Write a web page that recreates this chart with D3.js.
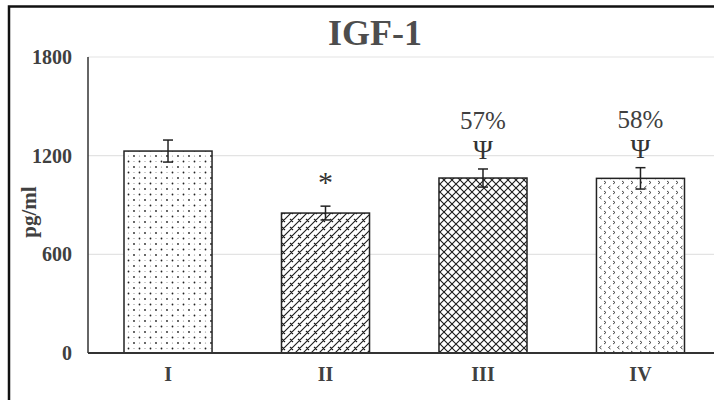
<!DOCTYPE html>
<html>
<head>
<meta charset="utf-8">
<script src="https://cdn.jsdelivr.net/npm/d3@7"></script>
<style>
  html, body { margin: 0; padding: 0; background: #fff; }
  svg { display: block; }
  text { font-family: "Liberation Serif", "Times New Roman", "DejaVu Serif", serif; }
</style>
</head>
<body>
<svg id="chart" width="714" height="400"></svg>
<script>
const categories = ["I", "II", "III", "IV"];
const means = [1228, 851, 1064, 1062];
const errors = [67, 42, 55, 65];
const markers = ["", "*", "Ψ", "Ψ"];
const percents = ["", "", "57%", "58%"];
const yTicks = [0, 600, 1200, 1800];
const patternIds = ["pDots", "pBrick", "pDiamond", "pDivot"];
const SERIF = "'Liberation Serif', 'Times New Roman', 'DejaVu Serif', serif";

const svg = d3.select("#chart");
const defs = svg.append("defs");

// Pattern I: dots
const p1 = defs.append("pattern").attr("id", "pDots").attr("patternUnits", "userSpaceOnUse")
  .attr("width", 11).attr("height", 11);
p1.append("rect").attr("width", 11).attr("height", 11).attr("fill", "#fff");
[[2, 2, 0.9, "#222"], [7.5, 7.5, 0.9, "#222"], [7.5, 2, 0.6, "#888"], [2, 7.5, 0.6, "#888"]].forEach(d => {
  p1.append("circle").attr("cx", d[0]).attr("cy", d[1]).attr("r", d[2]).attr("fill", d[3]);
});

// Pattern II: diagonal brick
const p2 = defs.append("pattern").attr("id", "pBrick").attr("patternUnits", "userSpaceOnUse")
  .attr("width", 8).attr("height", 8);
p2.append("rect").attr("width", 8).attr("height", 8).attr("fill", "#fff");
p2.append("path").attr("d", "M-1,9 L9,-1 M-1,1 L1,-1 M7,9 L9,7 M2,3 L5,6")
  .attr("stroke", "#1a1a1a").attr("stroke-width", 1.1).attr("fill", "none");

// Pattern III: diamond lattice
const p3 = defs.append("pattern").attr("id", "pDiamond").attr("patternUnits", "userSpaceOnUse")
  .attr("width", 8).attr("height", 8);
p3.append("rect").attr("width", 8).attr("height", 8).attr("fill", "#fff");
p3.append("path").attr("d", "M0,0 L8,8 M8,0 L0,8")
  .attr("stroke", "#1a1a1a").attr("stroke-width", 1.1).attr("fill", "none");

// Pattern IV: divot chevrons
const p4 = defs.append("pattern").attr("id", "pDivot").attr("patternUnits", "userSpaceOnUse")
  .attr("width", 9).attr("height", 10);
p4.append("rect").attr("width", 9).attr("height", 10).attr("fill", "#fff");
p4.append("path").attr("d", "M1,1 L3,2.5 L1,4 M7.5,6 L5.5,7.5 L7.5,9")
  .attr("stroke", "#333").attr("stroke-width", 0.9).attr("fill", "none");

// Outer frame
svg.append("rect").attr("x", 9).attr("y", 6.5).attr("width", 730).attr("height", 420)
  .attr("fill", "none").attr("stroke", "#111").attr("stroke-width", 2.5);

const y = d3.scaleLinear().domain([0, 1800]).range([353, 57]);
const x = d3.scaleBand().domain(categories).range([88, 720.5])
  .paddingInner(0.441).paddingOuter(0.2286);

// Gridlines
svg.append("g").selectAll("line").data(yTicks.filter(t => t > 0)).join("line")
  .attr("x1", 88).attr("x2", 714).attr("y1", d => y(d)).attr("y2", d => y(d))
  .attr("stroke", "#e3e3e3").attr("stroke-width", 1.2);

// Y axis (labels)
const yAxis = svg.append("g").attr("transform", "translate(88,0)")
  .call(d3.axisLeft(y).tickValues(yTicks).tickSize(0).tickPadding(16).tickFormat(d3.format("d")));
yAxis.select(".domain").remove();
yAxis.selectAll("text").attr("font-family", SERIF).attr("font-size", 20)
  .attr("font-weight", "bold").attr("fill", "#404040");
svg.append("line").attr("x1", 88).attr("x2", 88).attr("y1", y(1800)).attr("y2", y(0))
  .attr("stroke", "#333").attr("stroke-width", 1.5);

// Bars
svg.append("g").selectAll("rect").data(categories).join("rect")
  .attr("x", d => x(d)).attr("width", x.bandwidth())
  .attr("y", (d, i) => y(means[i])).attr("height", (d, i) => y(0) - y(means[i]))
  .attr("fill", (d, i) => `url(#${patternIds[i]})`)
  .attr("stroke", "#222").attr("stroke-width", 1.5);

// X axis
const xAxis = svg.append("g").attr("transform", `translate(0,${y(0)})`)
  .call(d3.axisBottom(x).tickSize(0).tickPadding(14));
xAxis.select(".domain").remove();
xAxis.selectAll("text").attr("font-family", SERIF).attr("font-size", 20)
  .attr("font-weight", "bold").attr("fill", "#404040");
svg.append("line").attr("x1", 88).attr("x2", 714).attr("y1", y(0)).attr("y2", y(0))
  .attr("stroke", "#333").attr("stroke-width", 2);

// Error bars
const eb = svg.append("g").attr("stroke", "#222").attr("stroke-width", 1.5);
categories.forEach((c, i) => {
  const cx = x(c) + x.bandwidth() / 2;
  const top = y(means[i] + errors[i]), bot = y(means[i] - errors[i]);
  eb.append("line").attr("x1", cx).attr("x2", cx).attr("y1", top).attr("y2", bot);
  eb.append("line").attr("x1", cx - 5).attr("x2", cx + 5).attr("y1", top).attr("y2", top);
  eb.append("line").attr("x1", cx - 5).attr("x2", cx + 5).attr("y1", bot).attr("y2", bot);
});

// Annotations
const ann = svg.append("g");
categories.forEach((c, i) => {
  const cx = x(c) + x.bandwidth() / 2;
  const top = y(means[i] + errors[i]);
  if (markers[i] === "*") {
    ann.append("text").attr("x", cx).attr("y", top - 14).attr("text-anchor", "middle")
      .attr("font-family", SERIF).attr("font-size", 30).attr("fill", "#333").text(markers[i]);
  } else if (markers[i]) {
    ann.append("text").attr("x", cx).attr("y", top - 10).attr("text-anchor", "middle")
      .attr("font-family", SERIF).attr("font-size", 27).attr("fill", "#333").text(markers[i]);
  }
  if (percents[i]) {
    ann.append("text").attr("x", cx).attr("y", top - 40).attr("text-anchor", "middle")
      .attr("font-family", SERIF).attr("font-size", 25).attr("fill", "#404040").text(percents[i]);
  }
});

// Title
svg.append("text").attr("x", 375).attr("y", 45).attr("text-anchor", "middle")
  .attr("font-family", SERIF).attr("font-size", 36).attr("font-weight", "bold").attr("fill", "#4d4d4d").text("IGF-1");

// Y axis title
svg.append("text").attr("transform", "translate(36,212) rotate(-90)").attr("text-anchor", "middle")
  .attr("font-family", SERIF).attr("font-size", 21).attr("font-weight", "bold").attr("fill", "#404040").text("pg/ml");
</script>
</body>
</html>
